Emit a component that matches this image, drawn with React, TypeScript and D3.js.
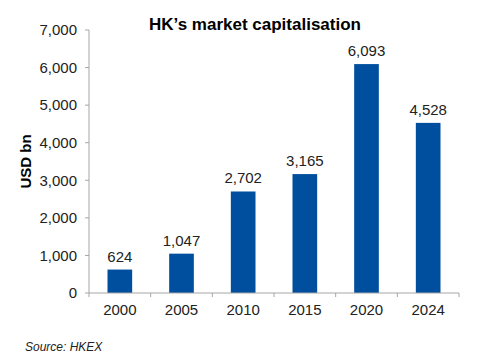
import * as d3 from "d3";

const years = ["2000", "2005", "2010", "2015", "2020", "2024"];
const capValues = [624, 1047, 2702, 3165, 6093, 4528];
const yTicks = [0, 1000, 2000, 3000, 4000, 5000, 6000, 7000];

const W = 487;
const H = 362;
const plot = { left: 89, right: 459, top: 30, bottom: 293 };
const axisColor = "#a6a6a6";
const barColor = "#004f9f";
const font = "Arial, 'Liberation Sans', sans-serif";

export default function App() {
  const x = d3
    .scaleBand()
    .domain(years)
    .range([plot.left, plot.right])
    .paddingInner(0.6)
    .paddingOuter(0.3);
  const step = (plot.right - plot.left) / years.length;
  const y = d3.scaleLinear().domain([0, 7000]).range([plot.bottom, plot.top]);
  const fmt = d3.format(",");

  return (
    <svg
      width={W}
      height={H}
      style={{ position: "absolute", left: 0, top: 0, background: "#fff" }}
      fontFamily={font}
    >
      <text x={255} y={30} textAnchor="middle" fontSize={17} fontWeight="bold" fill="#000">
        HK’s market capitalisation
      </text>

      {/* y axis */}
      <line x1={plot.left} x2={plot.left} y1={plot.top} y2={plot.bottom} stroke={axisColor} />
      {yTicks.map((t) => (
        <g key={t}>
          <line x1={plot.left - 4} x2={plot.left} y1={y(t)} y2={y(t)} stroke={axisColor} />
          <text x={77} y={y(t)} dy="0.35em" textAnchor="end" fontSize={15} fill="#222">
            {fmt(t)}
          </text>
        </g>
      ))}
      <text
        transform={`translate(31,${(plot.top + plot.bottom) / 2}) rotate(-90)`}
        textAnchor="middle"
        fontSize={15}
        fontWeight="bold"
        fill="#000"
      >
        USD bn
      </text>

      {/* bars */}
      {years.map((yr, i) => (
        <g key={yr}>
          <rect
            x={x(yr)!}
            y={y(capValues[i])}
            width={x.bandwidth()}
            height={plot.bottom - y(capValues[i])}
            fill={barColor}
          />
          <text
            x={x(yr)! + x.bandwidth() / 2}
            y={y(capValues[i]) - 8}
            textAnchor="middle"
            fontSize={15}
            fill="#222"
          >
            {fmt(capValues[i])}
          </text>
        </g>
      ))}

      {/* x axis */}
      <line x1={plot.left} x2={plot.right} y1={plot.bottom} y2={plot.bottom} stroke={axisColor} />
      {d3.range(years.length + 1).map((i) => (
        <line
          key={i}
          x1={plot.left + i * step}
          x2={plot.left + i * step}
          y1={plot.bottom}
          y2={plot.bottom + 4}
          stroke={axisColor}
        />
      ))}
      {years.map((yr) => (
        <text
          key={yr}
          x={x(yr)! + x.bandwidth() / 2}
          y={315}
          textAnchor="middle"
          fontSize={15}
          fill="#222"
        >
          {yr}
        </text>
      ))}

      <text x={25} y={351} fontSize={12} fontStyle="italic" fill="#222">
        Source: HKEX
      </text>
    </svg>
  );
}
